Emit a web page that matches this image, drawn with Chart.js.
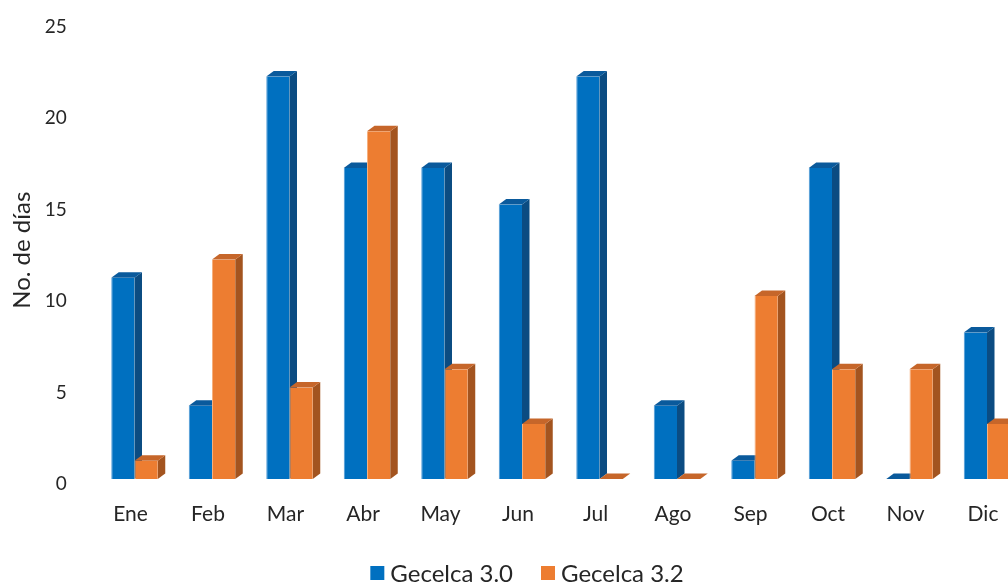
<!DOCTYPE html>
<html>
<head>
<meta charset="utf-8">
<script src="https://cdn.jsdelivr.net/npm/chart.js@4/dist/chart.umd.min.js"></script>
<style>
  html, body { margin: 0; padding: 0; background: #ffffff; overflow: hidden; }
  #wrap { position: relative; width: 1008px; height: 583px; overflow: hidden; }
  #dias-chart { position: absolute; left: 0; top: 0; display: block; }
</style>
</head>
<body>
<div id="wrap">
  <canvas id="dias-chart" width="1056" height="583"></canvas>
</div>
<script>
// datos mensuales
let meses = ['Ene', 'Feb', 'Mar', 'Abr', 'May', 'Jun', 'Jul', 'Ago', 'Sep', 'Oct', 'Nov', 'Dic'];
let gecelca30 = [11, 4, 22, 17, 17, 15, 22, 4, 1, 17, 0, 8];
let gecelca32 = [1, 12, 5, 19, 6, 3, 0, 0, 10, 6, 6, 3];
let nombres = ['Gecelca 3.0', 'Gecelca 3.2'];

// frente, lado, tapa, borde
let colores = [
  { front: '#0070C0', side: '#0B4C82', top: '#0A5A9C', edge: '#4F9AD6' },
  { front: '#ED7D31', side: '#A3541F', top: '#C6662A', edge: '#F6B07E' }
];

const DX = 7.5;  // profundidad horizontal
const DY = 5.5;  // profundidad vertical

// dibuja lado y tapa de cada barra antes de las caras frontales
const barras3d = {
  id: 'barras3d',
  beforeDatasetsDraw(chart) {
    const ctx = chart.ctx;
    ctx.save();
    chart.data.datasets.forEach(function (ds, di) {
      const meta = chart.getDatasetMeta(di);
      const c = colores[di];
      meta.data.forEach(function (bar) {
        const p = bar.getProps(['x', 'y', 'base', 'width'], true);
        const l = p.x - p.width / 2;
        const r = p.x + p.width / 2;
        const t = Math.min(p.y, p.base);
        const b = Math.max(p.y, p.base);

        // lado derecho
        ctx.fillStyle = c.side;
        ctx.beginPath();
        ctx.moveTo(r, t);
        ctx.lineTo(r + DX, t - DY);
        ctx.lineTo(r + DX, b - DY);
        ctx.lineTo(r, b);
        ctx.closePath();
        ctx.fill();

        // tapa
        ctx.fillStyle = c.top;
        ctx.beginPath();
        ctx.moveTo(l, t);
        ctx.lineTo(l + DX, t - DY);
        ctx.lineTo(r + DX, t - DY);
        ctx.lineTo(r, t);
        ctx.closePath();
        ctx.fill();
      });
    });
    ctx.restore();
  }
};

const fuente = "Lato, 'Open Sans', sans-serif";

// leyenda propia, centrada bajo el eje
const leyenda = {
  id: 'leyenda',
  afterDraw(chart) {
    const ctx = chart.ctx;
    ctx.save();
    ctx.font = '24px ' + fuente;
    ctx.textBaseline = 'middle';
    const caja = 14, sep = 6, hueco = 28, yc = 573;
    const anchos = nombres.map(function (n) { return ctx.measureText(n).width; });
    let total = 0;
    anchos.forEach(function (w, i) { total += caja + sep + w + (i ? hueco : 0); });
    let x = 527 - total / 2;
    nombres.forEach(function (n, i) {
      ctx.fillStyle = colores[i].front;
      ctx.fillRect(x, yc - caja / 2, caja, caja);
      x += caja + sep;
      ctx.fillStyle = '#262626';
      ctx.fillText(n, x, yc + 1);
      x += anchos[i] + hueco;
    });
    ctx.restore();
  }
};

let my_datasets = [gecelca30, gecelca32].map(function (serie, i) {
  return {
    label: nombres[i],
    data: serie,
    backgroundColor: colores[i].front,
    borderColor: colores[i].edge,
    borderWidth: { left: 1, right: 0, top: 0, bottom: 0 },
    categoryPercentage: 0.6,
    barPercentage: 1.0
  };
});

new Chart(document.getElementById('dias-chart').getContext('2d'), {
  type: 'bar',
  data: {
    labels: meses,
    datasets: my_datasets
  },
  plugins: [barras3d, leyenda],
  options: {
    responsive: false,
    animation: false,
    layout: {
      padding: { left: 0, right: 30.25, top: 21.5, bottom: 53 }
    },
    plugins: {
      legend: { display: false },
      tooltip: { enabled: false }
    },
    scales: {
      x: {
        grid: { display: false, drawTicks: false },
        border: { display: false },
        ticks: {
          color: '#262626',
          font: { family: fuente, size: 21 },
          padding: 23,
          labelOffset: -4,
          maxRotation: 0
        },
        afterFit: function (scale) { scale.height = 51; }
      },
      y: {
        min: 0,
        max: 25,
        grid: { display: false, drawTicks: false },
        border: { display: false },
        ticks: {
          stepSize: 5,
          color: '#262626',
          font: { family: fuente, size: 19 },
          padding: 29,
          labelOffset: 5
        },
        title: {
          display: true,
          text: 'No. de días',
          color: '#262626',
          font: { family: fuente, size: 24 },
          padding: { top: 8, bottom: 0 }
        },
        afterFit: function (scale) {
          scale.width = 95.75;
          scale.paddingTop = 0;
          scale.paddingBottom = 0;
        }
      }
    }
  }
});
</script>
</body>
</html>
